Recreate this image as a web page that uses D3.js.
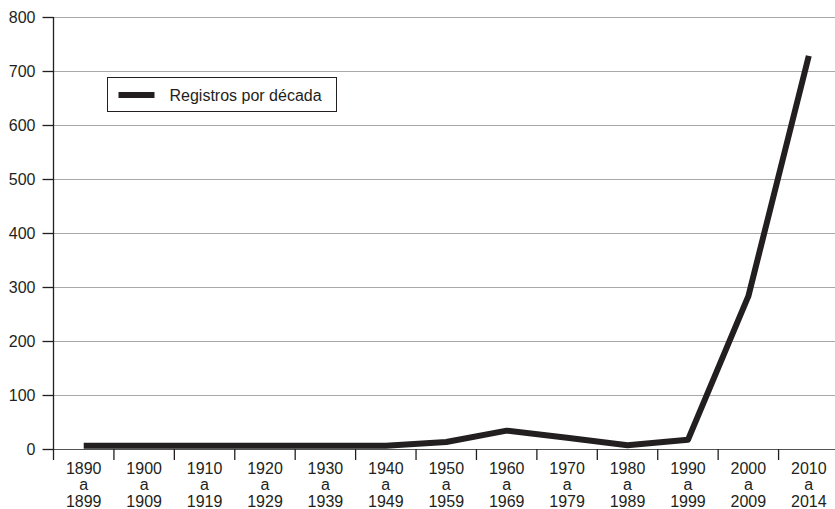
<!DOCTYPE html>
<html>
<head>
<meta charset="utf-8">
<style>
  body { margin: 0; background: #fff; }
  svg { display: block; font-family: "Liberation Sans", Arial, sans-serif; }
</style>
</head>
<body>
<svg id="chart" width="835" height="509"></svg>

<script src="https://d3js.org/d3.v7.min.js"></script>
<script>
// periods (decades), drawn as "start / a / end"
const periodStart = ["1890", "1900", "1910", "1920", "1930", "1940", "1950", "1960", "1970", "1980", "1990", "2000", "2010"];
const periodEnd   = ["1899", "1909", "1919", "1929", "1939", "1949", "1959", "1969", "1979", "1989", "1999", "2009", "2014"];
// records per decade
const registros = [6, 6, 6, 6, 6, 6, 13, 34, 21, 7, 17, 283, 728];
const yTicks = [0, 100, 200, 300, 400, 500, 600, 700, 800];
const seriesName = "Registros por década";

const svg = d3.select("#chart");
const margin = { top: 17, left: 53.5, bottom: 60 };
const plotRight = 839;   // plot runs a little past the page edge
const plotBottom = 449;
const fs = 16;

const x = d3.scaleBand()
    .domain(periodStart)
    .range([margin.left, plotRight])
    .padding(0);

const y = d3.scaleLinear()
    .domain([0, 800])
    .range([plotBottom, margin.top]);

// horizontal gridlines
svg.append("g")
    .selectAll("line")
    .data(yTicks.filter(d => d > 0))
    .join("line")
    .attr("x1", margin.left)
    .attr("x2", 835)
    .attr("y1", d => Math.round(y(d)) + 0.5)
    .attr("y2", d => Math.round(y(d)) + 0.5)
    .attr("stroke", "#a8a8a8")
    .attr("stroke-width", 1.2);

// x axis baseline
svg.append("line")
    .attr("x1", margin.left).attr("x2", 835)
    .attr("y1", plotBottom + 0.5).attr("y2", plotBottom + 0.5)
    .attr("stroke", "#555").attr("stroke-width", 1.2);

// x ticks at band edges
svg.append("g")
    .selectAll("line")
    .data(periodStart.slice(1))
    .join("line")
    .attr("x1", d => x(d))
    .attr("x2", d => x(d))
    .attr("y1", plotBottom)
    .attr("y2", plotBottom + 11)
    .attr("stroke", "#231f20")
    .attr("stroke-width", 1.3);

// x labels, three lines each
const xl = svg.append("g")
    .selectAll("text")
    .data(periodStart)
    .join("text")
    .attr("text-anchor", "middle")
    .attr("font-size", fs)
    .attr("fill", "#231f20")
    .attr("transform", d => `translate(${x(d) + x.bandwidth() / 2},0)`);
xl.append("tspan").attr("x", 0).attr("y", 474).text(d => d);
xl.append("tspan").attr("x", 0).attr("y", 490).text("a");
xl.append("tspan").attr("x", 0).attr("y", 507).text((d, i) => periodEnd[i]);

// y axis
const yAxis = d3.axisLeft(y)
    .tickValues(yTicks)
    .tickSize(11)
    .tickPadding(7)
    .tickFormat(d3.format("d"));

svg.append("g")
    .attr("transform", `translate(${margin.left},0)`)
    .call(yAxis)
    .call(g => g.select(".domain")
        .attr("d", `M0,${margin.top}V${plotBottom + 11}`)
        .attr("stroke", "#231f20")
        .attr("stroke-width", 1.3))
    .call(g => g.selectAll(".tick line").attr("stroke", "#231f20").attr("stroke-width", 1.3))
    .call(g => g.selectAll(".tick text")
        .attr("font-size", fs)
        .attr("font-family", "Liberation Sans, Arial, sans-serif")
        .attr("fill", "#231f20"));

// data line
const line = d3.line()
    .x((d, i) => x(periodStart[i]) + x.bandwidth() / 2)
    .y(d => y(d));

svg.append("path")
    .datum(registros)
    .attr("fill", "none")
    .attr("stroke", "#231f20")
    .attr("stroke-width", 6)
    .attr("stroke-linejoin", "round")
    .attr("d", line);

// legend
const lg = svg.append("g").attr("transform", "translate(107.5,77.5)");
lg.append("rect")
    .attr("width", 229).attr("height", 34)
    .attr("fill", "#fff")
    .attr("stroke", "#231f20").attr("stroke-width", 1);
lg.append("line")
    .attr("x1", 11).attr("x2", 47)
    .attr("y1", 17.5).attr("y2", 17.5)
    .attr("stroke", "#231f20").attr("stroke-width", 6);
lg.append("text")
    .attr("x", 62).attr("y", 23)
    .attr("font-size", fs)
    .attr("fill", "#231f20")
    .text(seriesName);
</script>
</body>
</html>
